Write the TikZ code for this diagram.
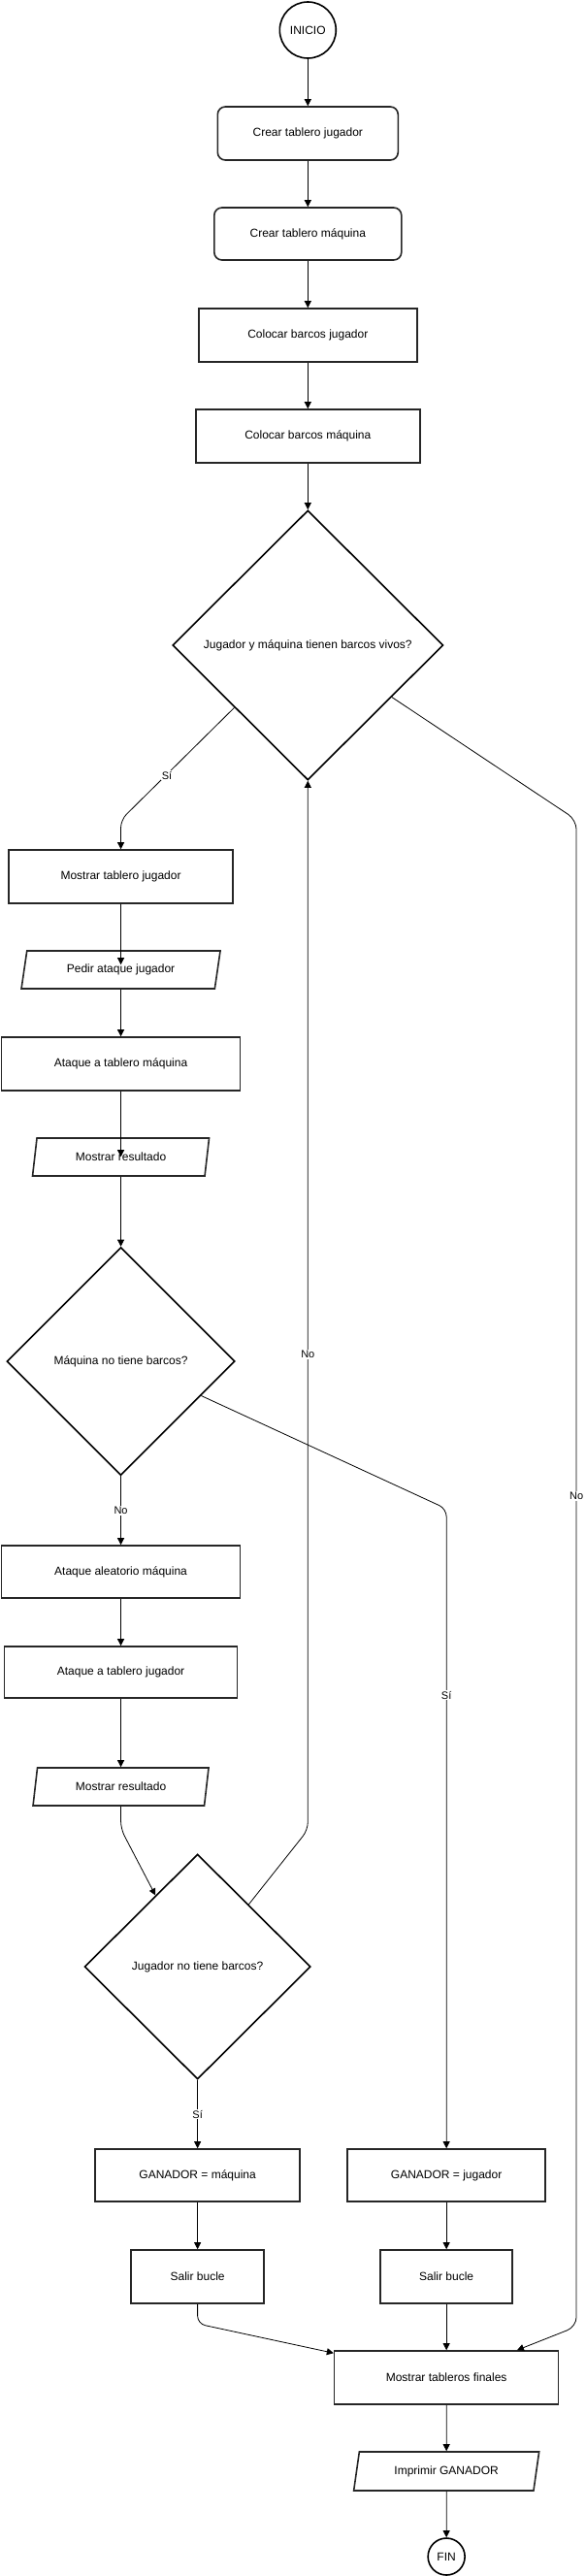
\documentclass[tikz,border=0pt]{standalone}
\usepackage{fontspec}
\setmainfont{Liberation Sans}
\usetikzlibrary{shapes.geometric,arrows.meta,calc}
\begin{document}
\begin{tikzpicture}[x=0.9885pt,y=-1pt,
  base/.style={font=\fontsize{12pt}{14pt}\selectfont, inner sep=0pt, align=center, text=black},
  proc/.style={base, rectangle, draw=black!85, line width=1.6pt, minimum width=#1, minimum height=55pt},
  rproc/.style={proc=#1, rounded corners=8pt},
  io/.style={base, trapezium, trapezium left angle=63, trapezium right angle=117, trapezium stretches body, draw=black!85, line width=1.6pt, minimum width=#1, minimum height=39pt},
  dec/.style={base, diamond, draw=black, line width=1.6pt},
  term/.style={base, circle, draw=black, line width=1.6pt},
  arr/.style={draw=black, line width=0.8pt, -{Triangle[length=7pt,width=7pt]}},
  lbl/.style={font=\fontsize{11pt}{13pt}\selectfont, fill=white, inner sep=1pt}
]
\useasboundingbox (0,0) rectangle (611.03,2655);

\node[term, minimum size=58pt] (ini) at (321,31) {INICIO};
\node[rproc=186pt] (ctj) at (321,137.5) {Crear tablero jugador};
\node[rproc=193pt, minimum height=54pt] (ctm) at (321,241) {Crear tablero máquina};
\node[proc=225pt] (cbj) at (321,345.5) {Colocar barcos jugador};
\node[proc=231pt] (cbm) at (321,449.5) {Colocar barcos máquina};
\node[dec, minimum width=279pt, minimum height=278pt] (d1) at (321,665) {Jugador y máquina tienen barcos vivos?};
\node[proc=231pt] (mtj) at (126,903.5) {Mostrar tablero jugador};
\node[io=205pt] (pa) at (126,999.5) {Pedir ataque jugador};
\node[proc=246pt] (atm) at (126,1096.5) {Ataque a tablero máquina};
\node[io=182pt] (mr1) at (126,1192.5) {Mostrar resultado};
\node[dec, minimum width=235pt, minimum height=235pt] (d2) at (126,1403) {Máquina no tiene barcos?};
\node[proc=246pt, minimum height=54pt] (aam) at (126,1620) {Ataque aleatorio máquina};
\node[proc=240pt, minimum height=53pt] (atj) at (126,1723.5) {Ataque a tablero jugador};
\node[io=181pt] (mr2) at (126,1841.5) {Mostrar resultado};
\node[dec, minimum width=233pt, minimum height=232pt] (d3) at (206,2027) {Jugador no tiene barcos?};
\node[proc=211pt, minimum height=54pt] (gm) at (206,2242) {GANADOR = máquina};
\node[proc=204pt, minimum height=54pt] (gj) at (465.5,2242) {GANADOR = jugador};
\node[proc=137pt] (sb1) at (206,2346.5) {Salir bucle};
\node[proc=136pt] (sb2) at (465.5,2346.5) {Salir bucle};
\node[proc=231pt] (mtf) at (465.5,2450.5) {Mostrar tableros finales};
\node[io=191pt, minimum height=40pt] (ig) at (465.5,2547) {Imprimir GANADOR};
\node[term, minimum size=38pt] (fin) at (465.5,2635) {FIN};

\draw[arr] (ini) -- (ctj);
\draw[arr] (ctj) -- (ctm);
\draw[arr] (ctm) -- (cbj);
\draw[arr] (cbj) -- (cbm);
\draw[arr] (cbm) -- (d1);

\draw[arr, rounded corners=8pt] ($(d1.west)!0.46!(d1.south)$) -- (126,845) -- (mtj.north);
\node[lbl] (l1) at (174,799) {Sí};

\draw[arr] (mtj.south) -- ($(pa.north)+(0,15)$);
\draw[arr] (pa) -- (atm);
\draw[arr] (atm.south) -- ($(mr1.north)+(0,20)$);
\draw[arr] (mr1) -- (d2);
\draw[arr] (d2) -- node[lbl] (l2) {No} (aam);
\draw[arr] (aam) -- (atj);
\draw[arr] (atj) -- (mr2);
\draw[arr, rounded corners=8pt] (mr2.south) -- (126,1885) -- ($(d3.north)!0.37!(d3.west)$);
\draw[arr] (d3) -- node[lbl] (l3) {Sí} (gm);

\draw[arr, rounded corners=8pt] ($(d3.north)!0.45!(d3.east)$) -- (321,1886) -- (d1.south);
\node[lbl] (l4) at (321,1396) {No};

\draw[arr, rounded corners=8pt] ($(d2.east)!0.30!(d2.south)$) -- (465.5,1555) -- (gj.north);
\node[lbl] (l5) at (465.5,1747) {Sí};

\draw[arr, rounded corners=10pt] ($(d1.east)!0.383!(d1.south)$) -- (601,845) -- (601,2398) -- ($(mtf.north east)+(-44,0)$);
\node[lbl] (l6) at (601,1542) {No};

\draw[arr] (gm) -- (sb1);
\draw[arr] (gj) -- (sb2);
\draw[arr, rounded corners=8pt] (sb1.south) -- (206,2395) -- ($(mtf.north west)+(0,3)$);
\draw[arr] (sb2) -- (mtf);
\draw[arr] (mtf) -- (ig);
\draw[arr] (ig) -- (fin);
\end{tikzpicture}
\end{document}
